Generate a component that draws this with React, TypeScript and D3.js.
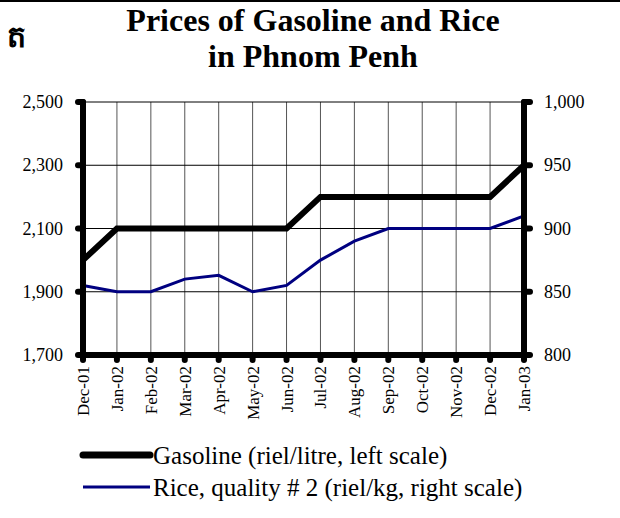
import React from "react";
import * as d3 from "d3";

const months = ["Dec-01","Jan-02","Feb-02","Mar-02","Apr-02","May-02","Jun-02","Jul-02","Aug-02","Sep-02","Oct-02","Nov-02","Dec-02","Jan-03"];
const gasoline = [2000,2100,2100,2100,2100,2100,2100,2200,2200,2200,2200,2200,2200,2300];
const rice = [855,850,850,860,863,850,855,875,890,900,900,900,900,910];
const leftTicks = [1700,1900,2100,2300,2500];
const rightTicks = [800,850,900,950,1000];

const W = 620, H = 518;
const L = 83, R = 524, T = 102, B = 355;
const FONT = "'Liberation Serif', 'Times New Roman', serif";

export default function App() {
  const x = d3.scalePoint<string>().domain(months).range([L, R]);
  const yL = d3.scaleLinear().domain([1700, 2500]).range([B, T]);
  const yR = d3.scaleLinear().domain([800, 1000]).range([B, T]);
  const gasLine = d3.line<number>().x((_, i) => x(months[i])!).y(d => yL(d));
  const riceLine = d3.line<number>().x((_, i) => x(months[i])!).y(d => yR(d));
  const fmt = d3.format(",");
  return (
    <svg width={W} height={H} style={{ position: "absolute", left: 0, top: 0, background: "#fff" }}>
      <line x1={0} x2={620} y1={1} y2={1} stroke="#000" strokeWidth={2} />
      <text x={16} y={47} fontSize={30} fontWeight="bold" textAnchor="middle" fontFamily={FONT}>ត</text>
      <text x={313} y={31} fontSize={32} fontWeight="bold" textAnchor="middle" fontFamily={FONT}>Prices of Gasoline and Rice</text>
      <text x={313} y={67} fontSize={32} fontWeight="bold" textAnchor="middle" fontFamily={FONT}>in Phnom Penh</text>
      {months.map(m => (
        <line key={"vg" + m} x1={x(m)} x2={x(m)} y1={T} y2={B} stroke="#555" strokeWidth={1} />
      ))}
      {leftTicks.map(t => (
        <line key={"hg" + t} x1={L} x2={R} y1={yL(t)} y2={yL(t)} stroke="#000" strokeWidth={1} />
      ))}
      <path d={riceLine(rice)!} fill="none" stroke="#000080" strokeWidth={3} />
      <path d={gasLine(gasoline)!} fill="none" stroke="#000" strokeWidth={6} strokeLinejoin="miter" />
      <g stroke="#000" strokeLinecap="round">
        <line x1={L} x2={L} y1={T} y2={B} strokeWidth={6} />
        <line x1={R} x2={R} y1={T} y2={B} strokeWidth={6} />
        <line x1={L} x2={R} y1={B} y2={B} strokeWidth={6} />
        {leftTicks.map(t => (
          <line key={"lt" + t} x1={L - 5} x2={L} y1={yL(t)} y2={yL(t)} strokeWidth={6} />
        ))}
        {rightTicks.map(t => (
          <line key={"rt" + t} x1={R} x2={R + 6} y1={yR(t)} y2={yR(t)} strokeWidth={6} />
        ))}
        {months.map(m => (
          <line key={"bt" + m} x1={x(m)} x2={x(m)} y1={B} y2={B + 5} strokeWidth={6} />
        ))}
      </g>
      {leftTicks.map(t => (
        <text key={"ll" + t} x={63} y={yL(t) + 6} fontSize={18} textAnchor="end" fontFamily={FONT}>{fmt(t)}</text>
      ))}
      {rightTicks.map(t => (
        <text key={"rl" + t} x={544} y={yR(t) + 6} fontSize={18} textAnchor="start" fontFamily={FONT}>{fmt(t)}</text>
      ))}
      {months.map(m => (
        <text key={"xl" + m} transform={`translate(${x(m)! + 6},${B + 11}) rotate(-90)`} fontSize={17} textAnchor="end" fontFamily={FONT}>{m}</text>
      ))}
      <line x1={83} x2={150} y1={455} y2={455} stroke="#000" strokeWidth={7} strokeLinecap="round" />
      <text x={153} y={464} fontSize={25} fontFamily={FONT}>Gasoline (riel/litre, left scale)</text>
      <line x1={83} x2={150} y1={487} y2={487} stroke="#000080" strokeWidth={3} />
      <text x={153} y={496} fontSize={25} fontFamily={FONT}>Rice, quality # 2 (riel/kg, right scale)</text>
    </svg>
  );
}
